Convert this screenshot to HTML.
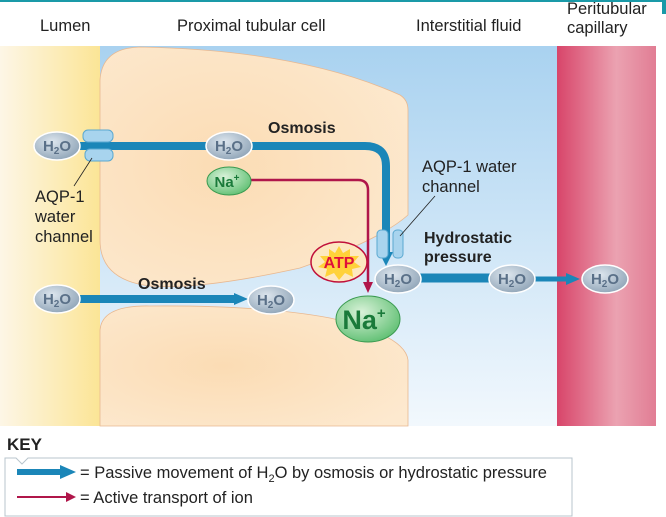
<!DOCTYPE html>
<html><head><meta charset="utf-8"><style>
body{margin:0;background:#fff;}
svg{display:block;font-family:"Liberation Sans",sans-serif;}
</style></head><body>
<svg width="666" height="517" viewBox="0 0 666 517">
<defs>
<linearGradient id="lum" x1="0" x2="1"><stop offset="0" stop-color="#fdf6e6"/><stop offset="1" stop-color="#fbe38e"/></linearGradient>
<linearGradient id="isf" x1="0" y1="0" x2="0" y2="1"><stop offset="0" stop-color="#a9d2f0"/><stop offset="1" stop-color="#f2f8fd"/></linearGradient>
<linearGradient id="cap" x1="0" x2="1"><stop offset="0" stop-color="#d8456a"/><stop offset="0.6" stop-color="#eba2b1"/><stop offset="1" stop-color="#e17d94"/></linearGradient>
<radialGradient id="cell" cx="0.4" cy="0.5" r="0.7"><stop offset="0" stop-color="#fbdcb4"/><stop offset="1" stop-color="#fde9cf"/></radialGradient>
<radialGradient id="h2o" cx="0.4" cy="0.35" r="0.7"><stop offset="0" stop-color="#dde6ee"/><stop offset="1" stop-color="#8ea3b6"/></radialGradient>
<radialGradient id="na" cx="0.4" cy="0.35" r="0.7"><stop offset="0" stop-color="#d9f2d9"/><stop offset="1" stop-color="#5fbf72"/></radialGradient>
</defs>
<rect x="0" y="0" width="666" height="2" fill="#1a9aa8"/>
<rect x="662" y="0" width="4" height="14" fill="#1a9aa8"/>
<g font-size="16.5" fill="#222">
<text x="40" y="31">Lumen</text>
<text x="177" y="31">Proximal tubular cell</text>
<text x="416" y="31">Interstitial fluid</text>
<text x="567" y="14">Peritubular</text>
<text x="567" y="33">capillary</text>
</g>
<rect x="0" y="46" width="110" height="380" fill="url(#lum)"/>
<rect x="100" y="46" width="457" height="380" fill="url(#isf)"/>
<rect x="557" y="46" width="99" height="380" fill="url(#cap)"/>
<path d="M100,80 Q102,48 140,47 Q300,50 400,95 Q408,100 408,110 L408,215 Q380,240 300,268 Q200,290 150,286 Q100,280 100,240 Z" fill="url(#cell)" stroke="#e8b890" stroke-width="0.8"/>
<path d="M100,426 L100,330 Q102,305 150,306 Q260,305 330,318 Q405,335 408,360 L408,426 Z" fill="url(#cell)" stroke="#e8b890" stroke-width="0.8"/>
<path d="M80,146 L365,146 Q386,146 386,166 L386,255" fill="none" stroke="#1b86b8" stroke-width="8"/>
<path d="M379,252 L393,252 L386,266 Z" fill="#1b86b8"/>
<path d="M236,180 L358,180 Q368,180 368,190 L368,285" fill="none" stroke="#b0164a" stroke-width="2.5"/>
<path d="M363,282 L373,282 L368,293 Z" fill="#b0164a"/>
<path d="M80,299 L236,299" stroke="#1b86b8" stroke-width="8"/>
<path d="M234,293 L248,299 L234,305 Z" fill="#1b86b8"/>
<path d="M420,278 L500,278" stroke="#1b86b8" stroke-width="9"/>
<path d="M520,279 L568,279" stroke="#1b86b8" stroke-width="5"/>
<path d="M566,273 L580,279 L566,285 Z" fill="#1b86b8"/>
<g fill="#a8d4ee" stroke="#5aa8d0" stroke-width="1">
<rect x="83" y="130" width="30" height="12" rx="5"/><rect x="85" y="149" width="28" height="12" rx="5"/>
<rect x="377" y="230" width="11" height="28" rx="4"/><rect x="393" y="230" width="10" height="28" rx="4"/>
</g>
<line x1="92" y1="158" x2="74" y2="186" stroke="#222" stroke-width="0.8"/>
<line x1="400" y1="236" x2="435" y2="196" stroke="#222" stroke-width="0.8"/>
<g font-size="16.5" fill="#222">
<text x="35" y="202">AQP-1</text>
<text x="35" y="222">water</text>
<text x="35" y="242">channel</text>
<text x="422" y="172">AQP-1 water</text>
<text x="422" y="192">channel</text>
</g>
<g font-size="16" font-weight="bold" fill="#222">
<text x="268" y="133">Osmosis</text>
<text x="138" y="289">Osmosis</text>
<text x="424" y="243">Hydrostatic</text>
<text x="424" y="262">pressure</text>
</g>
<g font-size="15" font-weight="bold" fill="#5a7088" text-anchor="middle">
<g><ellipse cx="57" cy="146" rx="23" ry="14" fill="url(#h2o)" stroke="#fff" stroke-width="1.5"/><text x="57" y="151">H<tspan font-size="10" dy="3">2</tspan><tspan dy="-3">O</tspan></text></g>
<g><ellipse cx="229" cy="146" rx="23" ry="14" fill="url(#h2o)" stroke="#fff" stroke-width="1.5"/><text x="229" y="151">H<tspan font-size="10" dy="3">2</tspan><tspan dy="-3">O</tspan></text></g>
<g><ellipse cx="57" cy="299" rx="23" ry="14" fill="url(#h2o)" stroke="#fff" stroke-width="1.5"/><text x="57" y="304">H<tspan font-size="10" dy="3">2</tspan><tspan dy="-3">O</tspan></text></g>
<g><ellipse cx="271" cy="300" rx="23" ry="14" fill="url(#h2o)" stroke="#fff" stroke-width="1.5"/><text x="271" y="305">H<tspan font-size="10" dy="3">2</tspan><tspan dy="-3">O</tspan></text></g>
<g><ellipse cx="398" cy="279" rx="23" ry="14" fill="url(#h2o)" stroke="#fff" stroke-width="1.5"/><text x="398" y="284">H<tspan font-size="10" dy="3">2</tspan><tspan dy="-3">O</tspan></text></g>
<g><ellipse cx="512" cy="279" rx="23" ry="14" fill="url(#h2o)" stroke="#fff" stroke-width="1.5"/><text x="512" y="284">H<tspan font-size="10" dy="3">2</tspan><tspan dy="-3">O</tspan></text></g>
<g><ellipse cx="605" cy="279" rx="23" ry="14" fill="url(#h2o)" stroke="#fff" stroke-width="1.5"/><text x="605" y="284">H<tspan font-size="10" dy="3">2</tspan><tspan dy="-3">O</tspan></text></g>
</g>
<ellipse cx="229" cy="181" rx="22" ry="14" fill="url(#na)" stroke="#3a9a50"/>
<text x="227" y="187" font-size="15" font-weight="bold" fill="#1a7a3a" text-anchor="middle">Na<tspan font-size="10" dy="-6">+</tspan></text>
<ellipse cx="368" cy="319" rx="32" ry="23" fill="url(#na)" stroke="#3a9a50"/>
<text x="364" y="329" font-size="27" font-weight="bold" fill="#1a7a3a" text-anchor="middle">Na<tspan font-size="15" dy="-11">+</tspan></text>
<ellipse cx="339" cy="262" rx="28" ry="20" fill="#fde8c0" stroke="#c0103a" stroke-width="1.5"/>
<polygon points="339,246 343,253 350,249 350,256 359,256 354,262 361,267 352,269 353,277 345,273 339,280 334,273 325,277 327,269 318,267 325,262 320,256 329,256 329,249 335,253" fill="#ffd23a"/>
<text x="339" y="268" font-size="16" font-weight="bold" fill="#e0103a" text-anchor="middle">ATP</text>
<text x="7" y="450" font-size="17" font-weight="bold" fill="#222">KEY</text>
<path d="M5,458 L16,458 L22,464 L28,458 L572,458 L572,516 L5,516 Z" fill="#fff" stroke="#b8c4cc"/>
<path d="M17,472 L62,472" stroke="#1b86b8" stroke-width="6"/>
<path d="M60,465 L76,472 L60,479 Z" fill="#1b86b8"/>
<text x="80" y="478" font-size="16.5" fill="#222">= Passive movement of H<tspan font-size="11" dy="4">2</tspan><tspan dy="-4">O by osmosis or hydrostatic pressure</tspan></text>
<path d="M17,497 L68,497" stroke="#b0164a" stroke-width="2"/>
<path d="M66,492 L76,497 L66,502 Z" fill="#b0164a"/>
<text x="80" y="503" font-size="16.5" fill="#222">= Active transport of ion</text>
</svg>
</body></html>
